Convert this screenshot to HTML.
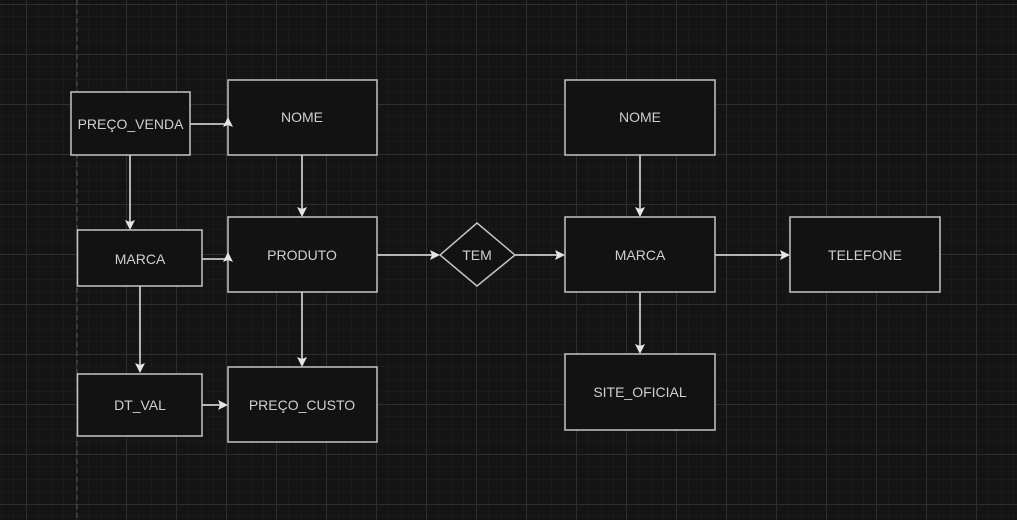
<!DOCTYPE html>
<html><head><meta charset="utf-8"><style>
html,body{margin:0;padding:0;background:#141414;}
svg{display:block;}
text{font-family:"Liberation Sans",sans-serif;font-size:14px;fill:#cfcfcf;text-anchor:middle;dominant-baseline:central;}
</style></head><body>
<svg width="1017" height="520" viewBox="0 0 1017 520" xmlns="http://www.w3.org/2000/svg">
<defs>
<pattern id="minor" x="1" y="4" width="12.5" height="12.5" patternUnits="userSpaceOnUse">
<path d="M0 0H12.5M0 0V12.5" stroke="#1f1f1f" stroke-width="1" fill="none"/>
</pattern>
<pattern id="major" x="26" y="4" width="50" height="50" patternUnits="userSpaceOnUse">
<path d="M0 0.5H50M0.5 0V50" stroke="#2e2e2e" stroke-width="1" fill="none"/>
</pattern>
</defs>
<rect width="1017" height="520" fill="#141414"/>
<rect width="1017" height="520" fill="url(#minor)"/>
<rect width="1017" height="520" fill="url(#major)"/>
<line x1="77" y1="0" x2="77" y2="520" stroke="#444" stroke-width="1.5" stroke-dasharray="5 4"/>

<g stroke="#e6e6e6" stroke-width="1.5" fill="none">
<line x1="190" y1="124" x2="228" y2="124"/>
<line x1="130" y1="155" x2="130" y2="222"/>
<line x1="302" y1="155" x2="302" y2="209"/>
<line x1="202" y1="259" x2="228" y2="259"/>
<line x1="140" y1="286" x2="140" y2="365"/>
<line x1="202" y1="405" x2="220" y2="405"/>
<line x1="302" y1="292" x2="302" y2="359"/>
<line x1="377" y1="255" x2="432" y2="255"/>
<line x1="515" y1="255" x2="557" y2="255"/>
<line x1="640" y1="155" x2="640" y2="209"/>
<line x1="715" y1="255" x2="782" y2="255"/>
<line x1="640" y1="292" x2="640" y2="346"/>
</g>
<g fill="#e6e6e6">
<path d="M130 230 L125 220 L130 222 L135 220Z"/>
<path d="M302 217 L297 207 L302 209 L307 207Z"/>
<path d="M140 373 L135 363 L140 365 L145 363Z"/>
<path d="M302 367 L297 357 L302 359 L307 357Z"/>
<path d="M640 217 L635 207 L640 209 L645 207Z"/>
<path d="M640 354 L635 344 L640 346 L645 344Z"/>
<path d="M228 405 L218 400 L220 405 L218 410Z"/>
<path d="M440 255 L430 250 L432 255 L430 260Z"/>
<path d="M565 255 L555 250 L557 255 L555 260Z"/>
<path d="M790 255 L780 250 L782 255 L780 260Z"/>
</g>

<g fill="#121212" stroke="#c4c4c4" stroke-width="1.5">
<rect x="71" y="92" width="119" height="63"/>
<rect x="228" y="80" width="149" height="75"/>
<rect x="228" y="217" width="149" height="75"/>
<rect x="77.5" y="230" width="124.5" height="56"/>
<rect x="77.5" y="374" width="124.5" height="62"/>
<rect x="228" y="367" width="149" height="75"/>
<polygon points="477,223 515,255 477,286 440,255"/>
<rect x="565" y="80" width="150" height="75"/>
<rect x="565" y="217" width="150" height="75"/>
<rect x="790" y="217" width="150" height="75"/>
<rect x="565" y="354" width="150" height="76"/>
</g>
<g fill="#e6e6e6">
<path d="M228 117 L233 127 L228 125 L223 127Z"/>
<path d="M228 252 L233 262 L228 260 L223 262Z"/>
</g>
<text x="130.5" y="124">PREÇO_VENDA</text>
<text x="302" y="117">NOME</text>
<text x="302" y="255">PRODUTO</text>
<text x="140" y="259">MARCA</text>
<text x="140" y="405">DT_VAL</text>
<text x="302" y="405">PREÇO_CUSTO</text>
<text x="477" y="255">TEM</text>
<text x="640" y="117">NOME</text>
<text x="640" y="255">MARCA</text>
<text x="865" y="255">TELEFONE</text>
<text x="640" y="392">SITE_OFICIAL</text>
</svg>
</body></html>
